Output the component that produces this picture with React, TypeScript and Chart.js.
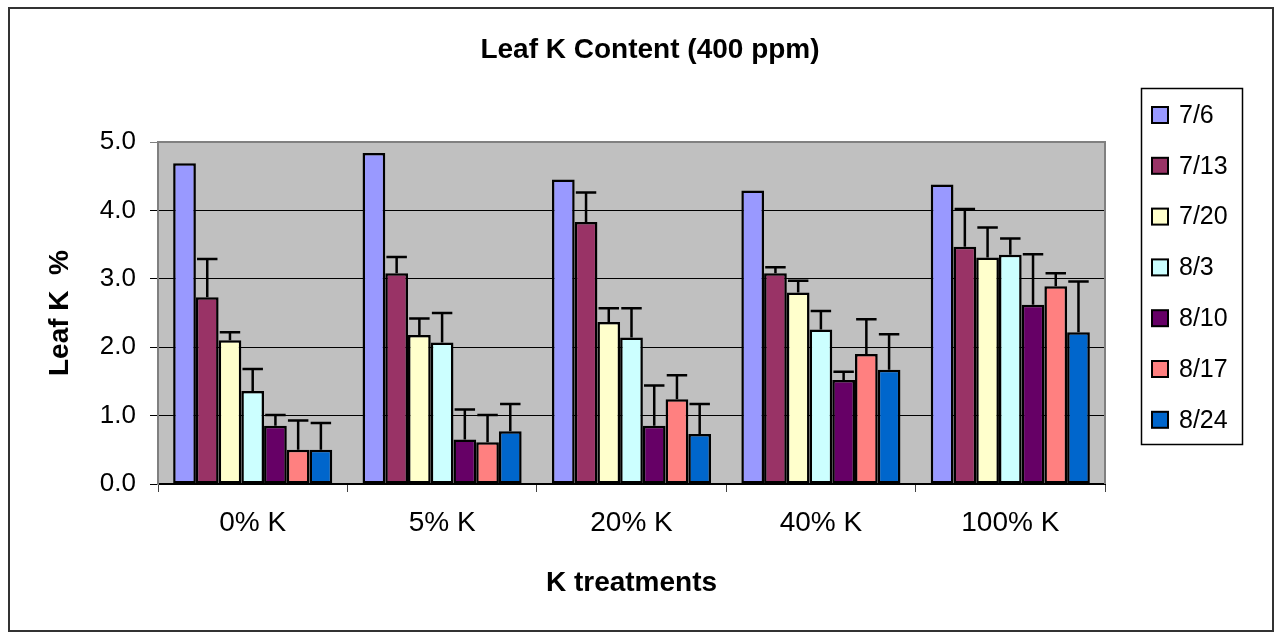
import React, { useEffect, useRef } from 'react';
import { Chart, registerables } from 'chart.js';

Chart.register(...registerables);

const FONT = "'Liberation Sans', Arial, sans-serif";

const chartTitle = 'Leaf K Content (400 ppm)';
const xTitle = 'K treatments';
const yTitle = 'Leaf K  %';

const categories = ['0% K', '5% K', '20% K', '40% K', '100% K'];
const seriesLabels = ['7/6', '7/13', '7/20', '8/3', '8/10', '8/17', '8/24'];
const seriesColors = ['#9999FF', '#993366', '#FFFFCC', '#CCFFFF', '#660066', '#FF8080', '#0066CC'];

const v7_6 = [4.69, 4.84, 4.45, 4.29, 4.38];
const v7_13 = [2.73, 3.08, 3.83, 3.08, 3.47];
const v7_20 = [2.1, 2.18, 2.37, 2.8, 3.31];
const v8_3 = [1.36, 2.07, 2.14, 2.26, 3.35];
const v8_10 = [0.85, 0.65, 0.85, 1.52, 2.62];
const v8_17 = [0.5, 0.61, 1.24, 1.9, 2.89];
const v8_24 = [0.5, 0.77, 0.73, 1.67, 2.22];

const e7_6 = [0, 0, 0, 0, 0];
const e7_13 = [0.56, 0.24, 0.43, 0.09, 0.55];
const e7_20 = [0.12, 0.24, 0.2, 0.17, 0.44];
const e8_3 = [0.32, 0.43, 0.43, 0.27, 0.24];
const e8_10 = [0.16, 0.44, 0.59, 0.12, 0.74];
const e8_17 = [0.43, 0.4, 0.35, 0.51, 0.19];
const e8_24 = [0.39, 0.4, 0.44, 0.52, 0.74];

const seriesValues = [v7_6, v7_13, v7_20, v8_3, v8_10, v8_17, v8_24];
const seriesErrors = [e7_6, e7_13, e7_20, e8_3, e8_10, e8_17, e8_24];

const yMin = 0;
const yMax = 5;
const yStep = 1;

const backgroundPlugin = {
  id: 'plotBackground',
  beforeDraw(chart: any) {
    const { ctx, chartArea } = chart;
    ctx.save();
    ctx.fillStyle = '#FFFFFF';
    ctx.fillRect(0, 0, chart.width, chart.height);
    ctx.fillStyle = '#C0C0C0';
    ctx.fillRect(chartArea.left, chartArea.top, chartArea.right - chartArea.left, chartArea.bottom - chartArea.top);
    ctx.restore();
  },
  beforeDatasetsDraw(chart: any) {
    const { ctx, chartArea } = chart;
    ctx.save();
    ctx.strokeStyle = '#808080';
    ctx.lineWidth = 2;
    ctx.beginPath();
    ctx.moveTo(chartArea.left, chartArea.top);
    ctx.lineTo(chartArea.right, chartArea.top);
    ctx.lineTo(chartArea.right, chartArea.bottom);
    ctx.stroke();
    ctx.restore();
  },
};

const errorBarPlugin = {
  id: 'errorBars',
  afterDatasetsDraw(chart: any) {
    const { ctx } = chart;
    const yScale = chart.scales.y;
    chart.data.datasets.forEach((ds: any, i: number) => {
      const meta = chart.getDatasetMeta(i);
      const errs: number[] = ds.errors || [];
      meta.data.forEach((el: any, j: number) => {
        const e = errs[j];
        if (!e) return;
        const v = ds.data[j] as number;
        const yTop = yScale.getPixelForValue(v);
        const yErr = yScale.getPixelForValue(v + e);
        const half = el.width * 0.45;
        ctx.save();
        ctx.strokeStyle = '#000000';
        ctx.lineWidth = 2.5;
        ctx.beginPath();
        ctx.moveTo(el.x, yTop);
        ctx.lineTo(el.x, yErr);
        ctx.moveTo(el.x - half, yErr);
        ctx.lineTo(el.x + half, yErr);
        ctx.stroke();
        ctx.restore();
      });
    });
  },
};

const decorPlugin = {
  id: 'decor',
  afterDraw(chart: any) {
    const { ctx } = chart;
    ctx.save();
    // outer frame
    ctx.strokeStyle = '#333333';
    ctx.lineWidth = 2;
    ctx.strokeRect(9, 8, 1264, 623);

    // title
    ctx.fillStyle = '#000000';
    ctx.font = `bold 28px ${FONT}`;
    ctx.textAlign = 'center';
    ctx.textBaseline = 'middle';
    ctx.fillText(chartTitle, 650, 50);

    // legend
    const lx = 1141;
    const ly = 88;
    const lw = 101;
    const lh = 356;
    ctx.fillStyle = '#FFFFFF';
    ctx.fillRect(lx, ly, lw, lh);
    ctx.strokeStyle = '#000000';
    ctx.lineWidth = 1.5;
    ctx.strokeRect(lx + 0.5, ly + 0.5, lw, lh);
    ctx.font = `25px ${FONT}`;
    ctx.textAlign = 'left';
    ctx.textBaseline = 'middle';
    chart.data.datasets.forEach((ds: any, i: number) => {
      const cy = 115 + i * 50.8;
      ctx.fillStyle = ds.backgroundColor;
      ctx.fillRect(1152, cy - 8, 16, 16);
      ctx.strokeStyle = '#000000';
      ctx.lineWidth = 2;
      ctx.strokeRect(1152, cy - 8, 16, 16);
      ctx.fillStyle = '#000000';
      ctx.fillText(ds.label, 1179, cy + 1);
    });
    ctx.restore();
  },
};

export default function App() {
  const canvasRef = useRef<HTMLCanvasElement | null>(null);

  useEffect(() => {
    const canvas = canvasRef.current;
    if (!canvas) return;
    const chart = new Chart(canvas, {
      type: 'bar',
      data: {
        labels: categories,
        datasets: seriesLabels.map((label, i) => ({
          label,
          data: seriesValues[i],
          errors: seriesErrors[i],
          backgroundColor: seriesColors[i],
          borderColor: '#000000',
          borderWidth: 2.5,
          borderSkipped: false,
          categoryPercentage: 0.84,
          barPercentage: 1.0,
        })) as any,
      },
      options: {
        responsive: false,
        animation: false,
        devicePixelRatio: 1,
        layout: { padding: { left: 43, right: 173, top: 142, bottom: 35 } },
        plugins: {
          legend: { display: false },
          title: { display: false },
          tooltip: { enabled: false },
        },
        scales: {
          x: {
            afterFit: (scale: any) => {
              scale.height = 116;
            },
            grid: {
              offset: true,
              drawOnChartArea: false,
              drawTicks: true,
              tickLength: 8,
              color: '#404040',
              lineWidth: 1,
            },
            border: { display: true, color: '#000000', width: 2 },
            ticks: {
              color: '#000000',
              font: { family: FONT, size: 28 },
              padding: 14,
              maxRotation: 0,
            },
            title: {
              display: true,
              text: xTitle,
              color: '#000000',
              font: { family: FONT, size: 28, weight: 'bold' },
              padding: { top: 0, bottom: 0 },
            },
          },
          y: {
            min: yMin,
            max: yMax,
            afterFit: (scale: any) => {
              scale.width = 115;
            },
            grid: {
              drawTicks: true,
              tickLength: 8,
              color: (ctx: any) => (ctx.tick && ctx.tick.value === yMax ? '#808080' : '#000000'),
              lineWidth: 1,
            },
            border: { display: true, color: '#808080', width: 2 },
            ticks: {
              stepSize: yStep,
              color: '#000000',
              font: { family: FONT, size: 26 },
              padding: 14,
              callback: (v: any) => Number(v).toFixed(1),
            },
            title: {
              display: true,
              text: yTitle,
              color: '#000000',
              font: { family: FONT, size: 28, weight: 'bold' },
              padding: { top: 0, bottom: 0 },
            },
          },
        },
      },
      plugins: [backgroundPlugin, errorBarPlugin, decorPlugin],
    });
    return () => chart.destroy();
  }, []);

  return (
    <div style={{ position: 'fixed', left: 0, top: 0, width: 1278, height: 635, background: '#ffffff' }}>
      <canvas ref={canvasRef} width={1278} height={635} style={{ display: 'block' }} />
    </div>
  );
}
